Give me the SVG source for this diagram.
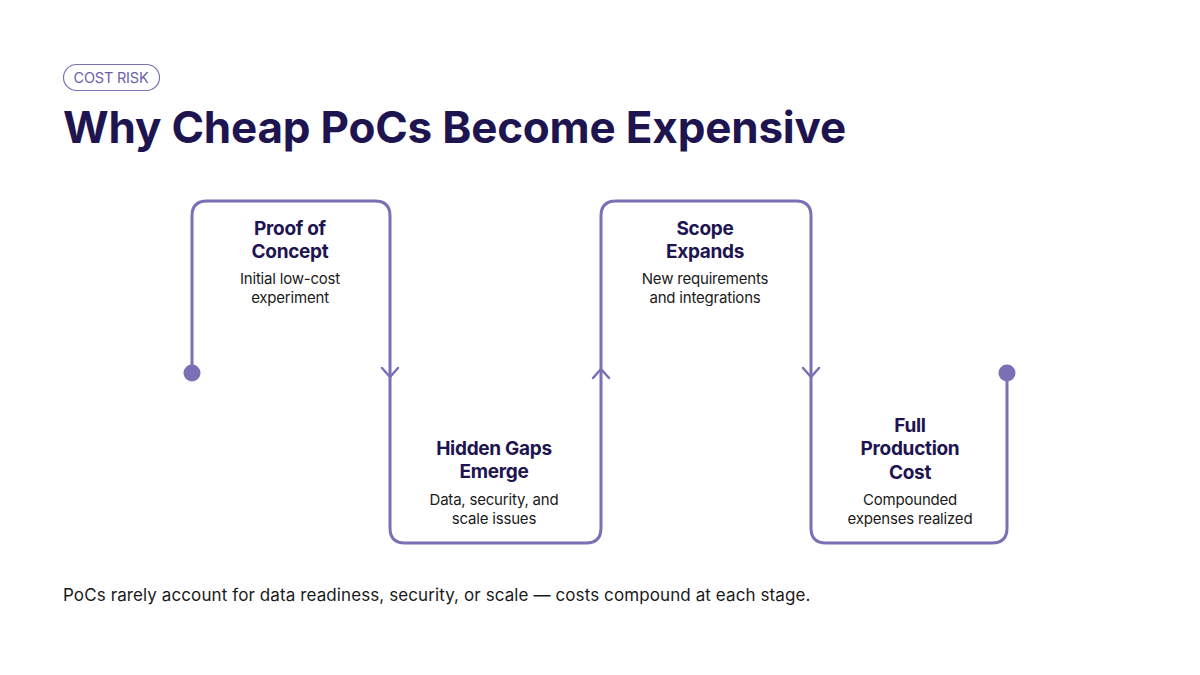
<svg xmlns="http://www.w3.org/2000/svg" width="1200" height="675" viewBox="0 0 1200 675">
<style>
.title{font-family:Inter,"Liberation Sans",sans-serif;font-weight:700;font-size:44px;fill:#1e1450;letter-spacing:-0.2px}
.tag{font-family:Inter,"Liberation Sans",sans-serif;font-size:14.5px;fill:#6b5fa8;letter-spacing:-0.2px}
.nt{font-family:Inter,"Liberation Sans",sans-serif;font-weight:700;font-size:19px;fill:#1e1450;text-anchor:middle;letter-spacing:-0.3px}
.nd{font-family:Inter,"Liberation Sans",sans-serif;font-size:15px;fill:#1a1a1a;text-anchor:middle;letter-spacing:-0.2px}
.foot{font-family:Inter,"Liberation Sans",sans-serif;font-size:17px;fill:#1a1a1a;letter-spacing:0.1px}
.line{fill:none;stroke:#7b6fb5;stroke-width:3;stroke-linejoin:round;stroke-linecap:round}
.chev{fill:none;stroke:#7b6fb5;stroke-width:2.5;stroke-linecap:round;stroke-linejoin:round}
</style>
<rect width="1200" height="675" fill="#ffffff"/>
<g id="tag">
<rect x="63.5" y="64.5" width="96" height="26" rx="13" fill="none" stroke="#7b6fb5" stroke-width="1.2"/>
<text class="tag" x="111" y="82.5" text-anchor="middle">COST RISK</text>
</g>
<text class="title" x="63" y="143">Why Cheap PoCs Become Expensive</text>
<g id="connectors">
<path class="line" d="M192,373 V216 Q192,201 207,201 H375 Q390,201 390,216 V528 Q390,543 405,543 H586 Q601,543 601,528 V216 Q601,201 616,201 H796 Q811,201 811,216 V528 Q811,543 826,543 H992 Q1007,543 1007,528 V373"/>
<circle cx="192" cy="373" r="8.5" fill="#7b6fb5"/>
<circle cx="1007" cy="373" r="8.5" fill="#7b6fb5"/>
<path class="chev" d="M382,368 L390,377 L398,368"/>
<path class="chev" d="M593,378 L601,369 L609,378"/>
<path class="chev" d="M803,368 L811,377 L819,368"/>
</g>
<g id="node-poc">
<text class="nt" x="290" y="235">Proof of</text>
<text class="nt" x="290" y="258">Concept</text>
<text class="nd" x="290" y="284">Initial low-cost</text>
<text class="nd" x="290" y="303">experiment</text>
</g>
<g id="node-gaps">
<text class="nt" x="494" y="455">Hidden Gaps</text>
<text class="nt" x="494" y="478">Emerge</text>
<text class="nd" x="494" y="505">Data, security, and</text>
<text class="nd" x="494" y="524">scale issues</text>
</g>
<g id="node-scope">
<text class="nt" x="705" y="235">Scope</text>
<text class="nt" x="705" y="258">Expands</text>
<text class="nd" x="705" y="284">New requirements</text>
<text class="nd" x="705" y="303">and integrations</text>
</g>
<g id="node-full">
<text class="nt" x="910" y="432">Full</text>
<text class="nt" x="910" y="455">Production</text>
<text class="nt" x="910" y="479">Cost</text>
<text class="nd" x="910" y="505">Compounded</text>
<text class="nd" x="910" y="524">expenses realized</text>
</g>
<text class="foot" x="63" y="601">PoCs rarely account for data readiness, security, or scale — costs compound at each stage.</text>
</svg>
